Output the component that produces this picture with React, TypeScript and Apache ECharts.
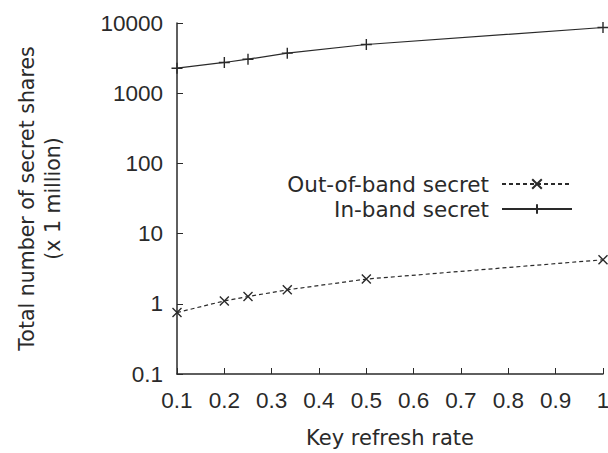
import React, { useEffect, useRef } from "react";
import * as echarts from "echarts";

const keyRefreshRates = [0.1, 0.2, 0.25, 0.333, 0.5, 1.0];
const outOfBand = [0.75, 1.1, 1.27, 1.58, 2.25, 4.24];
const inBand = [2270, 2740, 3050, 3720, 4940, 8630];
const seriesNames = ["Out-of-band secret", "In-band secret"];

const crossX = "path://M0,0L10,10M10,0L0,10";
const crossPlus = "path://M5,0L5,10M0,5L10,5";

export default function App() {
  const ref = useRef<HTMLDivElement>(null);
  useEffect(() => {
    if (!ref.current) return;
    const chart = echarts.init(ref.current, undefined, { renderer: "svg" });
    const ink = "#2a2a2a";
    const digitFont = "Liberation Sans, Arial, sans-serif";
    const wordFont = "DejaVu Sans, Liberation Sans, sans-serif";
    const fs = 22.5;
    chart.setOption({
      animation: false,
      backgroundColor: "#ffffff",
      textStyle: { fontFamily: digitFont, color: ink },
      grid: {
        left: 177,
        right: 5,
        top: 23,
        bottom: 79,
        containLabel: false,
        outerBoundsMode: "none",
      },
      legend: {
        orient: "vertical",
        align: "right",
        right: 35,
        top: 173,
        padding: 0,
        itemWidth: 70,
        itemHeight: 12,
        itemGap: 3,
        textStyle: {
          fontSize: 21.5,
          lineHeight: 22,
          color: ink,
          fontFamily: wordFont,
          padding: [0, 8, 0, 0],
        },
        data: seriesNames,
      },
      xAxis: {
        type: "value",
        min: 0.1,
        max: 1,
        interval: 0.1,
        name: "Key refresh rate",
        nameLocation: "middle",
        nameGap: 53,
        nameTextStyle: { fontSize: 21, color: ink, fontFamily: wordFont },
        axisLine: { lineStyle: { color: ink, width: 1.5 } },
        axisTick: { inside: true, length: 6, lineStyle: { color: ink } },
        axisLabel: {
          fontSize: fs,
          color: ink,
          margin: 15,
          fontFamily: digitFont,
          formatter: (v: number) => (Math.abs(v - 1) < 1e-9 ? "1" : v.toFixed(1)),
        },
        splitLine: { show: false },
      },
      yAxis: {
        type: "log",
        logBase: 10,
        min: 0.1,
        max: 10000,
        name: "Total number of secret shares\n(x 1 million)",
        nameLocation: "middle",
        nameGap: 111,
        nameRotate: 90,
        nameTextStyle: { fontSize: 20.5, color: ink, fontFamily: wordFont, lineHeight: 26 },
        axisLine: { show: true, lineStyle: { color: ink, width: 1.5 } },
        axisTick: { show: true, inside: true, length: 6, lineStyle: { color: ink } },
        axisLabel: {
          fontSize: fs,
          color: ink,
          margin: 14,
          fontFamily: digitFont,
          formatter: (v: number) => String(Number(v.toPrecision(6))),
        },
        splitLine: { show: false },
      },
      series: [
        {
          name: seriesNames[0],
          type: "line",
          data: keyRefreshRates.map((x, i) => [x, outOfBand[i]]),
          symbol: crossX,
          symbolSize: 9,
          showAllSymbol: true,
          lineStyle: { color: ink, width: 1.2, type: [4, 3] },
          itemStyle: { color: ink, borderColor: ink, borderWidth: 1.4 },
        },
        {
          name: seriesNames[1],
          type: "line",
          data: keyRefreshRates.map((x, i) => [x, inBand[i]]),
          symbol: crossPlus,
          symbolSize: 11,
          showAllSymbol: true,
          lineStyle: { color: ink, width: 1.2, type: "solid" },
          itemStyle: { color: ink, borderColor: ink, borderWidth: 1.4 },
        },
      ],
    });
    return () => chart.dispose();
  }, []);
  return (
    <div
      ref={ref}
      style={{ position: "fixed", left: 0, top: 0, width: 608, height: 453, background: "#fff" }}
    />
  );
}
